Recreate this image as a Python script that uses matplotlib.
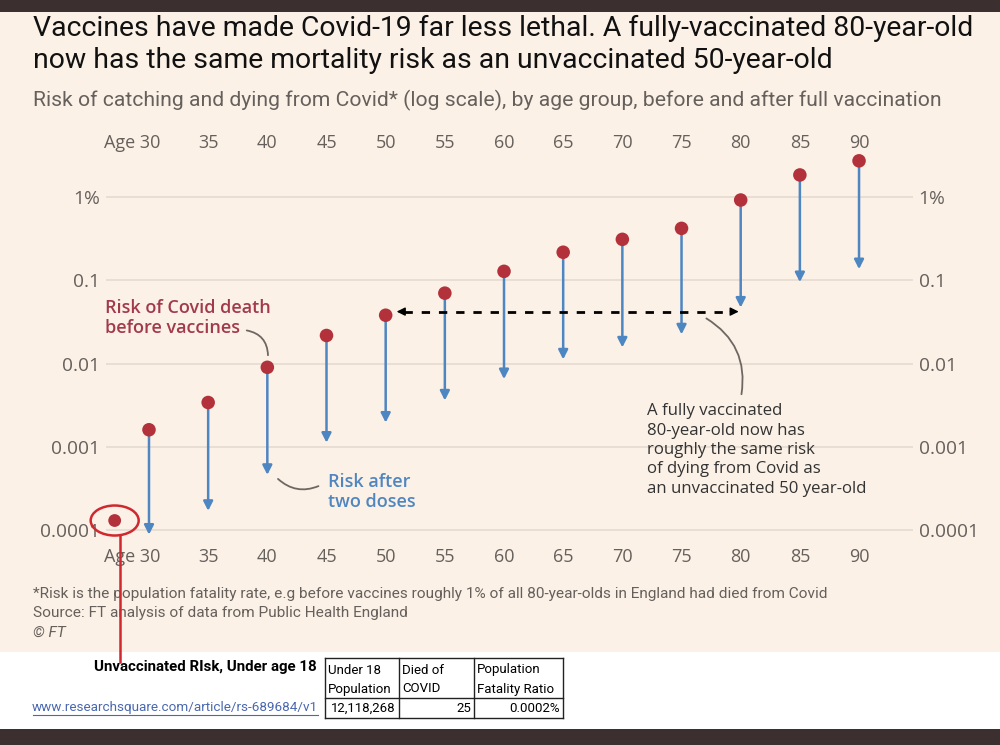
import matplotlib
matplotlib.use("Agg")
import matplotlib.pyplot as plt
from matplotlib.patches import Rectangle, Ellipse
from matplotlib.lines import Line2D
from matplotlib.transforms import ScaledTranslation
import numpy as np

# ---------------- data ----------------
ages = [30, 35, 40, 45, 50, 55, 60, 65, 70, 75, 80, 85, 90]
age_labels = ["Age 30", "35", "40", "45", "50", "55", "60", "65", "70", "75", "80", "85", "90"]
risk_before = [0.0016, 0.0034, 0.0090, 0.0217, 0.038, 0.070, 0.128, 0.217, 0.31, 0.42, 0.92, 1.84, 2.72]
risk_after = [0.000088, 0.00017, 0.00046, 0.00112, 0.00195, 0.0036, 0.0065, 0.0112, 0.0156, 0.0224, 0.047, 0.095, 0.136]
ytick_vals = [1, 0.1, 0.01, 0.001, 0.0001]
ytick_labels = ["1%", "0.1", "0.01", "0.001", "0.0001"]
u18_age = 27.1
u18_risk = 0.00013
equal_risk = 0.042  # level of dashed comparison arrow
table_header = [["Under 18", "Population"], ["Died of", "COVID"], ["Population", "Fatality Ratio"]]
table_values = ["12,118,268", "25", "0.0002%"]

# ---------------- style ----------------
W, H = 1000, 745
BEIGE = "#FBF1E7"
DARK = "#3B2F2F"
RED = "#B3313A"
BLUE = "#4E86C2"
GRID = "#E3D9CF"
GRAY = "#66605C"
TXT = "#333333"
BODY = ["Open Sans", "DejaVu Sans"]
TITLEF = ["Roboto", "DejaVu Sans"]

fig = plt.figure(figsize=(W / 100, H / 100), dpi=100, facecolor="white")

def fp(x, y):
    return (x / W, 1 - y / H)

# background blocks
fig.patches.append(Rectangle((0, 1 - 652 / H), 1, (652 - 12) / H, transform=fig.transFigure,
                             facecolor=BEIGE, edgecolor="none", zorder=-10))
fig.patches.append(Rectangle((0, 1 - 12 / H), 1, 12 / H, transform=fig.transFigure,
                             facecolor=DARK, edgecolor="none", zorder=-10))
fig.patches.append(Rectangle((0, 0), 1, 16 / H, transform=fig.transFigure,
                             facecolor=DARK, edgecolor="none", zorder=-10))

# titles
fig.text(*fp(33, 28), "Vaccines have made Covid-19 far less lethal. A fully-vaccinated 80-year-old",
         fontsize=20.4, family=TITLEF, color="#111111", va="center", ha="left")
fig.text(*fp(33, 61), "now has the same mortality risk as an unvaccinated 50-year-old",
         fontsize=20.4, family=TITLEF, color="#111111", va="center", ha="left")
fig.text(*fp(33, 100), "Risk of catching and dying from Covid* (log scale), by age group, before and after full vaccination",
         fontsize=15.2, family=TITLEF, color=GRAY, va="center", ha="left")

# axes
ax_l, ax_r, ax_t, ax_b = 106, 913, 150, 545
ax = fig.add_axes([ax_l / W, 1 - ax_b / H, (ax_r - ax_l) / W, (ax_b - ax_t) / H])
ax.set_facecolor("none")
ax.set_yscale("log")
ax.set_xlim(26.367, 94.56)
ax.set_ylim(10 ** (-4 - 15 / 83.25), 10 ** (47 / 83.25))
for s in ax.spines.values():
    s.set_visible(False)
ax.set_yticks(ytick_vals)
ax.set_yticklabels(ytick_labels)
ax.yaxis.set_minor_locator(matplotlib.ticker.NullLocator())
ax.tick_params(axis="y", length=0, pad=4, labelsize=13.8, labelcolor=GRAY,
               labelleft=True, labelright=True)
ax.set_xticks(ages)
ax.set_xticklabels(age_labels)
ax.tick_params(axis="x", length=0, pad=2, labelsize=13, labelcolor=GRAY,
               labeltop=True, labelbottom=True)
for lbl in ax.get_yticklabels():
    lbl.set_family(BODY)
for t in ax.yaxis.get_major_ticks():
    t.label1.set_family(BODY)
    t.label2.set_family(BODY)
down = ScaledTranslation(0, -5 / 100, fig.dpi_scale_trans)
for i, t in enumerate(ax.xaxis.get_major_ticks()):
    t.label1.set_family(BODY)
    t.label2.set_family(BODY)
    t.label2.set_transform(t.label2.get_transform() + down)
    if i == 0:
        # "Age 30": keep "30" centred on its tick
        t.label1.set_horizontalalignment("right")
        t.label2.set_horizontalalignment("right")
        off = ScaledTranslation(11 / 100, 0, fig.dpi_scale_trans)
        t.label1.set_transform(t.label1.get_transform() + off)
        t.label2.set_transform(t.label2.get_transform() + off)
ax.grid(axis="y", color=GRID, lw=1.1)
ax.grid(axis="x", visible=False)

# arrows before -> after
for a, b, c in zip(ages, risk_before, risk_after):
    ax.annotate("", xy=(a, c), xytext=(a, b),
                arrowprops=dict(arrowstyle="-|>,head_length=0.55,head_width=0.28",
                                color=BLUE, lw=1.8, shrinkA=4, shrinkB=0), zorder=3)
ax.scatter(ages, risk_before, s=95, color=RED, zorder=5, edgecolors="none")
ax.scatter([u18_age], [u18_risk], s=85, color=RED, zorder=5, edgecolors="none")

# dashed comparison arrow between 50 (before) and 80 (after)
x0 = ages[4] + 11 / 11.835
x1 = ages[10] - 2 / 11.835
ax.plot([x0 + 0.6, x1 - 0.6], [equal_risk, equal_risk], ls=(0, (3, 3.2)), color="black", lw=2, zorder=4)
ax.annotate("", xy=(x0, equal_risk), xytext=(x0 + 0.7, equal_risk),
            arrowprops=dict(arrowstyle="-|>,head_length=0.5,head_width=0.25", color="black", lw=1,
                            shrinkA=0, shrinkB=0), zorder=4)
ax.annotate("", xy=(x1, equal_risk), xytext=(x1 - 0.7, equal_risk),
            arrowprops=dict(arrowstyle="-|>,head_length=0.5,head_width=0.25", color="black", lw=1,
                            shrinkA=0, shrinkB=0), zorder=4)

# annotations
fig.text(*fp(105, 318), "Risk of Covid death\nbefore vaccines", family=BODY, fontsize=13,
         fontweight="semibold", color="#A23A4C", va="center", ha="left", linespacing=1.2)
fig.text(*fp(328, 492), "Risk after\ntwo doses", family=BODY, fontsize=13,
         fontweight="semibold", color="#4F86C0", va="center", ha="left", linespacing=1.2)
fig.text(*fp(647, 450), "A fully vaccinated\n80-year-old now has\nroughly the same risk\nof dying from Covid as\nan unvaccinated 50 year-old",
         family=BODY, fontsize=12.1, color=TXT, va="center", ha="left", linespacing=1.28)

conn = dict(arrowstyle="-", color="#6E6763", lw=1.3)
ax.annotate("", xy=fp(268, 358), xycoords="figure fraction", xytext=fp(244, 330),
            textcoords="figure fraction", arrowprops=dict(conn, connectionstyle="arc3,rad=-0.45"))
ax.annotate("", xy=fp(276, 477), xycoords="figure fraction", xytext=fp(321, 485),
            textcoords="figure fraction", arrowprops=dict(conn, connectionstyle="arc3,rad=-0.35"))
ax.annotate("", xy=fp(741, 397), xycoords="figure fraction", xytext=fp(704, 317),
            textcoords="figure fraction", arrowprops=dict(conn, connectionstyle="arc3,rad=-0.35"))

# footnotes
fig.text(*fp(33, 594), "*Risk is the population fatality rate, e.g before vaccines roughly 1% of all 80-year-olds in England had died from Covid",
         family=TITLEF, fontsize=11.05, color=GRAY, va="center", ha="left")
fig.text(*fp(33, 613), "Source: FT analysis of data from Public Health England",
         family=TITLEF, fontsize=11.05, color=GRAY, va="center", ha="left")
fig.text(*fp(33, 633), "© FT", family=TITLEF, fontsize=11.05, color=GRAY, va="center", ha="left",
         style="italic")

# red highlight ellipse + line around under-18 point
fig.canvas.draw()
cx, cy = ax.transData.transform((u18_age, u18_risk))
fig.patches.append(Ellipse((cx, cy), 48, 30, transform=None, facecolor="none",
                           edgecolor="#D0282E", lw=1.8, zorder=10))
fig.lines.append(Line2D([cx + 5, cx + 5], [cy - 15, H - 662], transform=None,
                        color="#D0282E", lw=1.8, zorder=10))

fig.text(*fp(317, 667), "Unvaccinated RIsk, Under age 18", family=TITLEF, fontsize=10.85,
         fontweight="bold", color="black", va="center", ha="right")
fig.text(*fp(318, 707), "www.researchsquare.com/article/rs-689684/v1", family=TITLEF, fontsize=9.7,
         color="#4A68B0", va="center", ha="right")
fig.lines.append(Line2D([33 / W, 318 / W], [1 - 715 / H, 1 - 715 / H], transform=fig.transFigure,
                        color="#4A68B0", lw=0.8))

# table
cols = [325, 399, 474, 563]
rows = [658, 698, 718]
for x in cols:
    fig.lines.append(Line2D([x / W, x / W], [1 - rows[0] / H, 1 - rows[-1] / H],
                            transform=fig.transFigure, color="#222222", lw=1))
for y in rows:
    fig.lines.append(Line2D([cols[0] / W, cols[-1] / W], [1 - y / H, 1 - y / H],
                            transform=fig.transFigure, color="#222222", lw=1))
for i, hdr in enumerate(table_header):
    for j, line in enumerate(hdr):
        fig.text(*fp(cols[i] + 3, 670 + j * 19), line, family=TITLEF, fontsize=9.5,
                 color="black", va="center", ha="left")
    fig.text(*fp(cols[i + 1] - 3, 708), table_values[i], family=TITLEF, fontsize=9.5,
             color="black", va="center", ha="right")

fig.savefig("out.png", dpi=100, facecolor="white")
